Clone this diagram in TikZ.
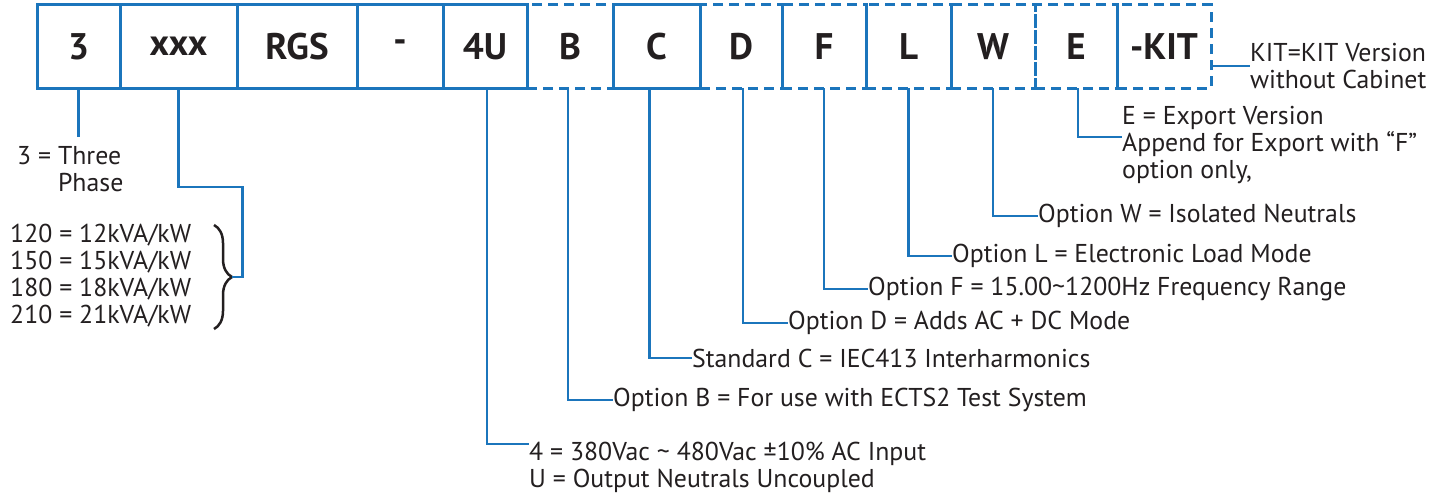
\documentclass[tikz,border=0pt]{standalone}
\usepackage{fontspec}
\setmainfont{PT Sans}
\usepackage{tikz}
\usetikzlibrary{positioning,decorations.pathreplacing}
\definecolor{codeblue}{RGB}{27,117,188}
\definecolor{inkgray}{RGB}{35,31,32}

\begin{document}
\begin{tikzpicture}[x=1pt,y=-1pt,
	codebox/.style={draw=codeblue, line width=3pt, minimum height=83pt, inner sep=0pt, outer sep=0pt, text=inkgray, font=\fontsize{37}{40}\selectfont\bfseries},
	optbox/.style={codebox, dash pattern=on 10pt off 6pt},
	note/.style={anchor=west, align=left, inner sep=0pt, text=inkgray, font=\fontsize{25.8}{27}\selectfont},
	link/.style={draw=codeblue, line width=2.8pt},
	]
	\useasboundingbox (0,0) rectangle (1448,495);
	%Code boxes
	\node[codebox, minimum width=83pt]  (b3)  at (78.5,46.5) {3};
	\node[codebox, minimum width=117pt] (bx)  [right=0pt of b3] {xxx};
	\node[codebox, minimum width=120pt] (bR)  [right=0pt of bx] {RGS};
	\node[codebox, minimum width=86pt]  (bd)  [right=0pt of bR] {-};
	\node[codebox, minimum width=84pt]  (b4)  [right=0pt of bd] {4U};
	\node[optbox,  minimum width=86pt]  (bB)  [right=0pt of b4] {B};
	\node[optbox,  minimum width=87pt]  (bC0) [right=0pt of bB] {};
	\node[optbox,  minimum width=82pt]  (bD)  [right=0pt of bC0] {D};
	\node[codebox, minimum width=87pt]  (bC)  [right=0pt of bB] {C};
	\node[optbox,  minimum width=84pt]  (bF)  [right=0pt of bD] {F};
	\node[optbox,  minimum width=85pt]  (bL)  [right=0pt of bF] {L};
	\node[optbox,  minimum width=84pt]  (bW)  [right=0pt of bL] {W};
	\node[optbox,  minimum width=82pt]  (bE)  [right=0pt of bW] {E};
	\node[optbox,  minimum width=94pt]  (bK)  [right=0pt of bE] {-KIT};
	
	%Notes
	\node[note] (t3) at (17,172.5) {\begin{tabular}{@{}r@{\ }l@{}}3 =&Three\\&Phase\end{tabular}};
	\node[note] (tx) at (10,275.5) {120 = 12kVA/kW\\150 = 15kVA/kW\\180 = 18kVA/kW\\210 = 21kVA/kW};
	\node[note] (t4) at (529,467) {4 = 380Vac \textasciitilde{} 480Vac ±10\% AC Input\\U = Output Neutrals Uncoupled};
	\node[note] (tB) at (613,400) {Option B = For use with ECTS2 Test System};
	\node[note] (tC) at (692,358) {Standard C = IEC413 Interharmonics};
	\node[note] (tD) at (788,323) {Option D = Adds AC + DC Mode};
	\node[note] (tF) at (868,289) {Option F = 15.00\textasciitilde1200Hz Frequency Range};
	\node[note] (tL) at (952,256) {Option L = Electronic Load Mode};
	\node[note] (tW) at (1038,216) {Option W = Isolated Neutrals};
	\node[note] (tE) at (1122,145) {E = Export Version\\Append for Export with “F”\\option only,};
	\node[note] (tK) at (1250,66) {KIT=KIT Version\\without Cabinet};
	
	%Brace
	\draw[inkgray, line width=2.5pt, decorate, decoration={brace, amplitude=18pt}] (214,225) -- (214,329);
	\coordinate (tip) at (232,277);
	
	%Lines
	\draw[link] (b3.south) -- ([yshift=8pt]b3.south |- t3.north);
	\draw[link] (bx.south) |- ++(64,99) |- (tip);
	\draw[link] ([xshift=2pt]b4.south) |- ([yshift=23pt]t4.west);
	\draw[link] ([xshift=-2pt]bB.south) |- (tB.west);
	\draw[link] ([xshift=-7pt]bC.south) |- (tC.west);
	\draw[link] ([xshift=2pt]bD.south) |- (tD.west);
	\draw[link] (bF.south) |- (tF.west);
	\draw[link] (bL.south) |- (tL.west);
	\draw[link] (bW.south) |- (tW.west);
	\draw[link] ([xshift=2pt]bE.south) |- ([yshift=8pt]tE.west);
	\draw[link] (tK.west -| bK.east) -- (tK.west);
\end{tikzpicture}
\end{document}
